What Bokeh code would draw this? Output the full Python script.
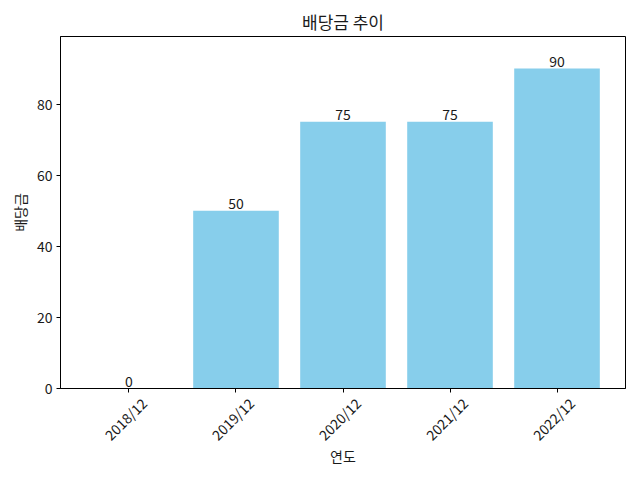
import math
from bokeh.plotting import figure
from bokeh.models import Range1d, FixedTicker, ColumnDataSource, LinearAxis
from bokeh.core.properties import value
from bokeh.embed import file_html
from bokeh.resources import INLINE

years = ["2018/12", "2019/12", "2020/12", "2021/12", "2022/12"]
dividends = [0, 50, 75, 75, 90]
y_ticks = [0, 20, 40, 60, 80]

FONT = "Noto Sans CJK KR"
TXT = "#1a1a1a"
SHIFT = 0.14

xs = list(range(len(years)))
src = ColumnDataSource(dict(x=xs, top=dividends, label=[str(v) for v in dividends]))

p = figure(width=640, height=480, output_backend="svg", toolbar_location=None,
           x_range=Range1d(-0.64, 4.64), y_range=Range1d(0, 99),
           title="배당금 추이", min_border_left=60, min_border_right=15,
           min_border_top=36, min_border_bottom=92)
p.extra_x_ranges = {"lab": Range1d(-0.64 - SHIFT, 4.64 - SHIFT)}

p.vbar(x="x", top="top", bottom=0, width=0.8, source=src, color="#87CEEB", line_color=None)
p.text(x="x", y="top", text="label", source=src, text_align="center", text_baseline="bottom",
       text_font=value(FONT), text_font_size="14px", text_color=TXT, y_offset=-2)

p.title.align = "center"
p.title.text_font = FONT
p.title.text_font_size = "17px"
p.title.text_font_style = "normal"
p.title.text_color = TXT
p.title.standoff = 6

p.xgrid.visible = False
p.ygrid.visible = False
p.outline_line_color = "black"
p.outline_line_width = 1
p.outline_line_alpha = 1

# primary x axis: only tick marks (as minor ticks, so no label texts)
xa = p.xaxis[0]
xa.ticker = FixedTicker(ticks=[], minor_ticks=xs)
xa.axis_line_color = "black"
xa.major_tick_line_color = None
xa.minor_tick_line_color = "black"
xa.minor_tick_out = 4
xa.minor_tick_in = 0
xa.major_label_standoff = 0

p.yaxis.ticker = FixedTicker(ticks=y_ticks)
p.yaxis.axis_label = "배당금"
ya = p.yaxis[0]
ya.axis_line_color = "black"
ya.major_tick_line_color = "black"
ya.major_tick_out = 4
ya.major_tick_in = 0
ya.minor_tick_line_color = None
ya.major_label_standoff = 4
ya.axis_label_standoff = 4

# label axis: shifted so rotated labels are centred under the ticks
lab_axis = LinearAxis(x_range_name="lab", ticker=FixedTicker(ticks=xs),
                      major_label_overrides={i: y for i, y in enumerate(years)},
                      major_label_orientation=math.pi / 4, axis_label="연도")
lab_axis.axis_line_color = None
lab_axis.major_tick_line_color = None
lab_axis.minor_tick_line_color = None
lab_axis.major_tick_out = 0
lab_axis.major_tick_in = 0
lab_axis.major_label_standoff = 8
lab_axis.axis_label_standoff = -8
p.add_layout(lab_axis, "below")

for ax in (ya, lab_axis):
    ax.major_label_text_font = FONT
    ax.major_label_text_font_size = "14px"
    ax.major_label_text_color = TXT
    ax.axis_label_text_font = FONT
    ax.axis_label_text_font_size = "14px"
    ax.axis_label_text_font_style = "normal"
    ax.axis_label_text_color = TXT

open("out.html", "w").write(file_html(p, INLINE))
